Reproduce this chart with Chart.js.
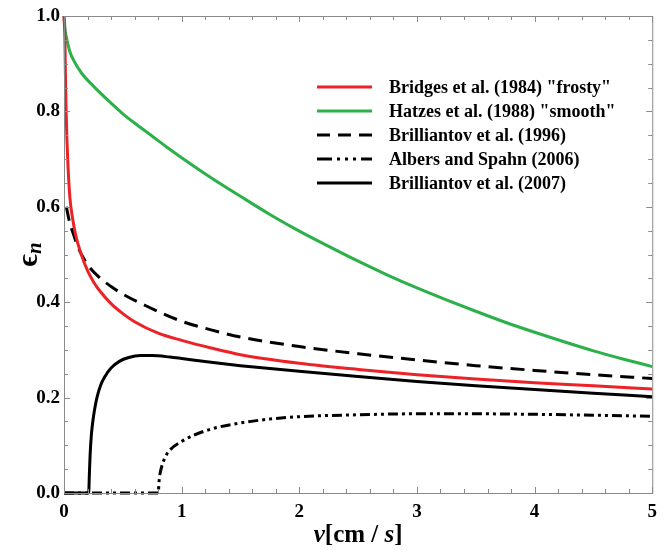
<!DOCTYPE html>
<html>
<head>
<meta charset="utf-8">
<script src="https://cdn.jsdelivr.net/npm/chart.js@4.4.1/dist/chart.umd.min.js"></script>
<style>
  html, body { margin: 0; padding: 0; background: #fff; }
  canvas { display: block; }
</style>
</head>
<body>
<canvas id="chart-restitution" width="665" height="550"></canvas>
<script>
// Normal coefficient of restitution vs impact velocity, several ice models

const seriesLabels = [
    'Bridges et al. (1984) "frosty"',
    'Hatzes et al. (1988) "smooth"',
    'Brilliantov et al. (1996)',
    'Albers and Spahn (2006)',
    'Brilliantov et al. (2007)'
];

const bridgesV = [0, 0.008, 0.012, 0.018, 0.025, 0.035, 0.05, 0.07, 0.1, 0.14, 0.2, 0.25, 0.3, 0.4, 0.5, 0.6, 0.8, 1.0, 1.25, 1.5, 2.0, 2.5, 3.0, 3.5, 4.0, 4.5, 5.0];
const bridgesE = [1.0, 0.95, 0.88, 0.8, 0.74, 0.68, 0.62, 0.58, 0.54, 0.505, 0.466, 0.443, 0.425, 0.397, 0.376, 0.359, 0.335, 0.32, 0.304, 0.29, 0.272, 0.259, 0.248, 0.239, 0.231, 0.225, 0.218];

const hatzesV = [0, 0.01, 0.025, 0.05, 0.08, 0.15, 0.25, 0.375, 0.5, 0.625, 0.75, 0.875, 1.0, 1.25, 1.5, 1.75, 2.0, 2.25, 2.5, 2.75, 3.0, 3.25, 3.5, 3.75, 4.0, 4.25, 4.5, 4.75, 5.0];
const hatzesE = [1.0, 0.97, 0.95, 0.925, 0.908, 0.88, 0.853, 0.823, 0.795, 0.771, 0.748, 0.725, 0.703, 0.661, 0.622, 0.584, 0.549, 0.517, 0.486, 0.457, 0.43, 0.405, 0.381, 0.358, 0.337, 0.317, 0.298, 0.281, 0.265];

const brill96V = [0.02, 0.05, 0.08, 0.12, 0.2, 0.3, 0.4, 0.5, 0.7, 1.0, 1.25, 1.5, 2.0, 2.5, 3.0, 3.5, 4.0, 4.5, 5.0];
const brill96E = [0.6, 0.565, 0.543, 0.515, 0.479, 0.452, 0.433, 0.417, 0.392, 0.36, 0.342, 0.327, 0.307, 0.292, 0.279, 0.267, 0.257, 0.248, 0.24];

const albersV = [0, 0.8, 0.81, 0.83, 0.86, 0.9, 1.0, 1.1, 1.25, 1.5, 1.75, 2.0, 2.5, 3.0, 3.5, 4.0, 4.5, 5.0];
const albersE = [0, 0, 0.03, 0.055, 0.075, 0.09, 0.108, 0.121, 0.134, 0.147, 0.155, 0.16, 0.164, 0.166, 0.166, 0.165, 0.163, 0.161];

const brill07V = [0, 0.21, 0.215, 0.222, 0.232, 0.245, 0.26, 0.28, 0.31, 0.35, 0.4, 0.47, 0.55, 0.65, 0.75, 0.9, 1.0, 1.25, 1.5, 2.0, 2.5, 3.0, 3.5, 4.0, 4.5, 5.0];
const brill07E = [0, 0, 0.035, 0.08, 0.12, 0.15, 0.175, 0.2, 0.225, 0.245, 0.262, 0.276, 0.284, 0.288, 0.288, 0.285, 0.282, 0.274, 0.267, 0.255, 0.244, 0.234, 0.225, 0.217, 0.209, 0.202];

const xTicks = [0, 1, 2, 3, 4, 5];
const yTicks = [0.0, 0.2, 0.4, 0.6, 0.8, 1.0];

const SERIF = '"Liberation Serif", "Times New Roman", serif';
const FRAME = '#8a8a8a';

function toPoints(xs, ys) {
    return xs.map((x, i) => ({ x: x, y: ys[i] }));
}

function series(label, xs, ys, color, dash, legendDash) {
    return {
        label: label,
        data: toPoints(xs, ys),
        borderColor: color,
        borderWidth: 3,
        borderDash: dash,
        legendDash: legendDash || dash,
        pointRadius: 0,
        fill: false,
        clip: 4,
        cubicInterpolationMode: 'monotone'
    };
}

// Frame on all four sides with inward major/minor ticks
const frameTicks = {
    id: 'frameTicks',
    afterDraw(chart) {
        const { ctx, chartArea: a, scales } = chart;
        ctx.save();
        ctx.strokeStyle = FRAME;
        ctx.lineWidth = 1;
        ctx.strokeRect(a.left + 0.5, a.top + 0.5, a.right - a.left, a.bottom - a.top);
        ctx.beginPath();
        for (let i = 0; i <= 25; i++) {
            const px = Math.round(scales.x.getPixelForValue(i * 0.2)) + 0.5;
            const len = i % 5 === 0 ? 6 : 4;
            ctx.moveTo(px, a.bottom); ctx.lineTo(px, a.bottom - len);
            ctx.moveTo(px, a.top); ctx.lineTo(px, a.top + len);
        }
        for (let i = 0; i <= 20; i++) {
            const py = Math.round(scales.y.getPixelForValue(i * 0.05)) + 0.5;
            const len = i % 4 === 0 ? 6 : 4;
            ctx.moveTo(a.left, py); ctx.lineTo(a.left + len, py);
            ctx.moveTo(a.right, py); ctx.lineTo(a.right - len, py);
        }
        ctx.stroke();
        ctx.restore();
    }
};

// Legend inside the plot, upper right
const insideLegend = {
    id: 'insideLegend',
    afterDraw(chart) {
        const { ctx, chartArea: a } = chart;
        const x0 = a.left + 253, x1 = a.left + 308, tx = a.left + 325;
        ctx.save();
        ctx.font = 'bold 18px ' + SERIF;
        ctx.textBaseline = 'middle';
        ctx.textAlign = 'left';
        chart.data.datasets.forEach((ds, i) => {
            const y = a.top + 71 + i * 24;
            ctx.beginPath();
            ctx.strokeStyle = ds.borderColor;
            ctx.lineWidth = 3;
            ctx.setLineDash(ds.legendDash || []);
            ctx.moveTo(x0, y);
            ctx.lineTo(x1, y);
            ctx.stroke();
            ctx.setLineDash([]);
            ctx.fillStyle = '#000';
            ctx.fillText(ds.label, tx, y + 1);
        });
        ctx.restore();
    }
};

// Axis titles with mixed italic / upright parts
const axisTitles = {
    id: 'axisTitles',
    afterDraw(chart) {
        const { ctx, chartArea: a } = chart;
        ctx.save();
        ctx.fillStyle = '#000';
        ctx.textBaseline = 'alphabetic';
        const parts = [
            ['v', 'italic bold 25px '],
            ['[cm / ', 'bold 25px '],
            ['s', 'italic bold 25px '],
            [']', 'bold 25px ']
        ];
        let total = 0;
        parts.forEach(p => { ctx.font = p[1] + SERIF; total += ctx.measureText(p[0]).width; });
        let x = (a.left + a.right) / 2 - total / 2;
        parts.forEach(p => {
            ctx.font = p[1] + SERIF;
            ctx.fillText(p[0], x, 542);
            x += ctx.measureText(p[0]).width;
        });

        ctx.translate(37, (a.top + a.bottom) / 2);
        ctx.rotate(-Math.PI / 2);
        ctx.font = 'bold 30px ' + SERIF;
        const ew = ctx.measureText('\u03F5').width;
        ctx.font = 'italic bold 21px ' + SERIF;
        const nw = ctx.measureText('n').width;
        const sx = -(ew + nw) / 2;
        ctx.font = 'bold 30px ' + SERIF;
        ctx.fillText('\u03F5', sx, 0);
        ctx.font = 'italic bold 21px ' + SERIF;
        ctx.fillText('n', sx + ew, 4);
        ctx.restore();
    }
};

new Chart(document.getElementById('chart-restitution').getContext('2d'), {
    type: 'line',
    data: {
        datasets: [
            series(seriesLabels[0], bridgesV, bridgesE, '#ec2227', []),
            series(seriesLabels[1], hatzesV, hatzesE, '#2bb04a', []),
            series(seriesLabels[2], brill96V, brill96E, '#000000', [14, 8], [13, 8]),
            series(seriesLabels[3], albersV, albersE, '#000000', [10, 4, 3, 4, 3, 4], [15, 5, 3, 5, 3, 5, 3, 5]),
            series(seriesLabels[4], brill07V, brill07E, '#000000', [])
        ]
    },
    options: {
        responsive: false,
        devicePixelRatio: 1,
        animation: false,
        layout: { padding: { top: 16, right: 12, left: 0, bottom: 0 } },
        plugins: {
            legend: { display: false },
            tooltip: { enabled: false }
        },
        scales: {
            x: {
                type: 'linear',
                min: 0,
                max: 5,
                afterBuildTicks: s => { s.ticks = xTicks.map(v => ({ value: v })); },
                afterFit: s => { s.height = 57; },
                grid: { display: false, drawTicks: false, tickLength: 0 },
                border: { display: false },
                ticks: {
                    color: '#000',
                    padding: 8,
                    maxRotation: 0,
                    font: { family: SERIF, size: 19, weight: 'bold' },
                    callback: v => String(v)
                }
            },
            y: {
                min: 0,
                max: 1,
                afterBuildTicks: s => { s.ticks = yTicks.map(v => ({ value: v })); },
                afterFit: s => { s.width = 64; },
                grid: { display: false, drawTicks: false, tickLength: 0 },
                border: { display: false },
                ticks: {
                    color: '#000',
                    padding: 4,
                    font: { family: SERIF, size: 19, weight: 'bold' },
                    callback: v => v.toFixed(1)
                }
            }
        }
    },
    plugins: [frameTicks, insideLegend, axisTitles]
});
</script>
</body>
</html>
